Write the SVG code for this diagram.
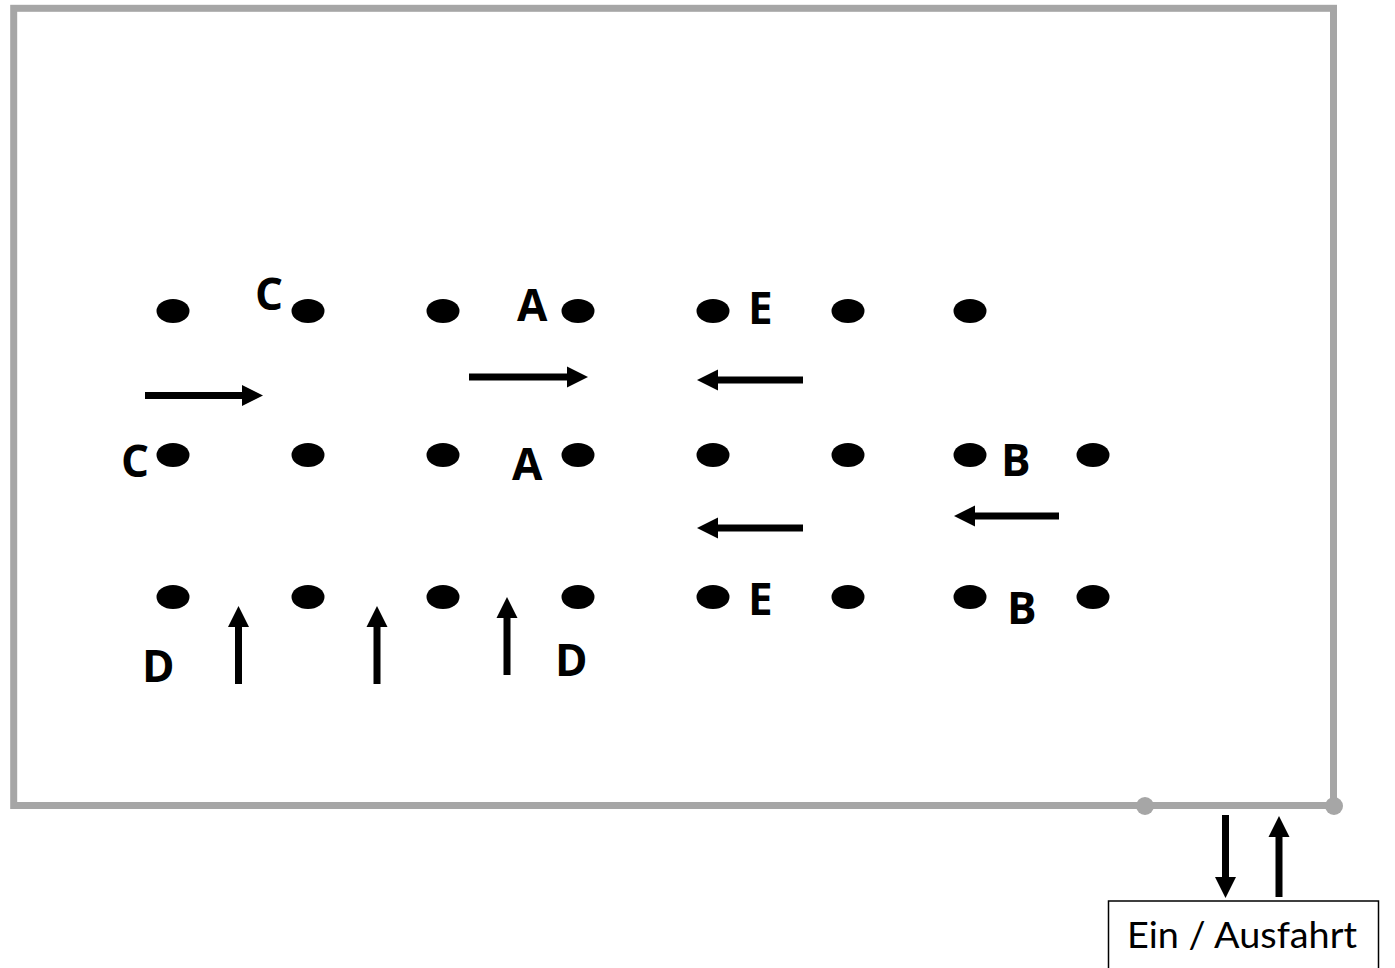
<svg xmlns="http://www.w3.org/2000/svg" width="1395" height="968" viewBox="0 0 1395 968">
<style>
.dot{fill:#000}
.lbl{font-family:"Open Sans","Noto Sans",sans-serif;font-weight:700;font-size:44px;fill:#000}
.arr{stroke:#000;stroke-width:7;fill:none}
.head{fill:#000}
</style>
<rect width="1395" height="968" fill="#fff"/>
<g id="frame">
<rect x="13.7" y="8.3" width="1319.8" height="797.2" fill="none" stroke="#A6A6A6" stroke-width="7"/>
<circle cx="1145" cy="806" r="9" fill="#A6A6A6"/>
<circle cx="1334" cy="806" r="9" fill="#A6A6A6"/>
</g>
<g id="posts">
<ellipse class="dot" cx="173" cy="311" rx="16.5" ry="12"/>
<ellipse class="dot" cx="308" cy="311" rx="16.5" ry="12"/>
<ellipse class="dot" cx="443" cy="311" rx="16.5" ry="12"/>
<ellipse class="dot" cx="578" cy="311" rx="16.5" ry="12"/>
<ellipse class="dot" cx="713" cy="311" rx="16.5" ry="12"/>
<ellipse class="dot" cx="848" cy="311" rx="16.5" ry="12"/>
<ellipse class="dot" cx="970" cy="311" rx="16.5" ry="12"/>
<ellipse class="dot" cx="173" cy="455" rx="16.5" ry="12"/>
<ellipse class="dot" cx="308" cy="455" rx="16.5" ry="12"/>
<ellipse class="dot" cx="443" cy="455" rx="16.5" ry="12"/>
<ellipse class="dot" cx="578" cy="455" rx="16.5" ry="12"/>
<ellipse class="dot" cx="713" cy="455" rx="16.5" ry="12"/>
<ellipse class="dot" cx="848" cy="455" rx="16.5" ry="12"/>
<ellipse class="dot" cx="970" cy="455" rx="16.5" ry="12"/>
<ellipse class="dot" cx="1093" cy="455" rx="16.5" ry="12"/>
<ellipse class="dot" cx="173" cy="597" rx="16.5" ry="12"/>
<ellipse class="dot" cx="308" cy="597" rx="16.5" ry="12"/>
<ellipse class="dot" cx="443" cy="597" rx="16.5" ry="12"/>
<ellipse class="dot" cx="578" cy="597" rx="16.5" ry="12"/>
<ellipse class="dot" cx="713" cy="597" rx="16.5" ry="12"/>
<ellipse class="dot" cx="848" cy="597" rx="16.5" ry="12"/>
<ellipse class="dot" cx="970" cy="597" rx="16.5" ry="12"/>
<ellipse class="dot" cx="1093" cy="597" rx="16.5" ry="12"/>
</g>
<g id="labels">
<text class="lbl" x="255" y="310">C</text>
<text class="lbl" x="517" y="321">A</text>
<text class="lbl" x="748" y="324">E</text>
<text class="lbl" x="121" y="477">C</text>
<text class="lbl" x="512" y="480">A</text>
<text class="lbl" x="1001" y="476">B</text>
<text class="lbl" x="748" y="615">E</text>
<text class="lbl" x="1007" y="624">B</text>
<text class="lbl" x="142" y="682">D</text>
<text class="lbl" x="555" y="676">D</text>
</g>
<g id="connectors">
<line class="arr" x1="145" y1="395.5" x2="244" y2="395.5"/>
<polygon class="head" points="263,395.5 242,385 242,406"/>
<line class="arr" x1="469" y1="377" x2="570" y2="377"/>
<polygon class="head" points="588,377 567,366.5 567,387.5"/>
<line class="arr" x1="803" y1="380" x2="715" y2="380"/>
<polygon class="head" points="697,380 718,369.5 718,390.5"/>
<line class="arr" x1="803" y1="528" x2="715" y2="528"/>
<polygon class="head" points="697,528 718,517.5 718,538.5"/>
<line class="arr" x1="1059" y1="516" x2="972" y2="516"/>
<polygon class="head" points="954,516 975,505.5 975,526.5"/>
<line class="arr" x1="238.5" y1="684" x2="238.5" y2="625"/>
<polygon class="head" points="238.5,606 228,627 249,627"/>
<line class="arr" x1="377" y1="684" x2="377" y2="625"/>
<polygon class="head" points="377,606 366.5,627 387.5,627"/>
<line class="arr" x1="507" y1="675" x2="507" y2="616"/>
<polygon class="head" points="507,597 496.5,618 517.5,618"/>
<line class="arr" x1="1225.5" y1="815" x2="1225.5" y2="880"/>
<polygon class="head" points="1225.5,898 1215,877 1236,877"/>
<line class="arr" x1="1279" y1="897" x2="1279" y2="835"/>
<polygon class="head" points="1279,816 1268.5,837 1289.5,837"/>
</g>
<g id="entrance">
<rect x="1108.5" y="901" width="270" height="80" fill="#fff" stroke="#000" stroke-width="1.5"/>
<text x="1127" y="948" font-family="Lato,'Open Sans',sans-serif" font-size="36" fill="#000" textLength="230" lengthAdjust="spacingAndGlyphs">Ein / Ausfahrt</text>
</g>
</svg>
